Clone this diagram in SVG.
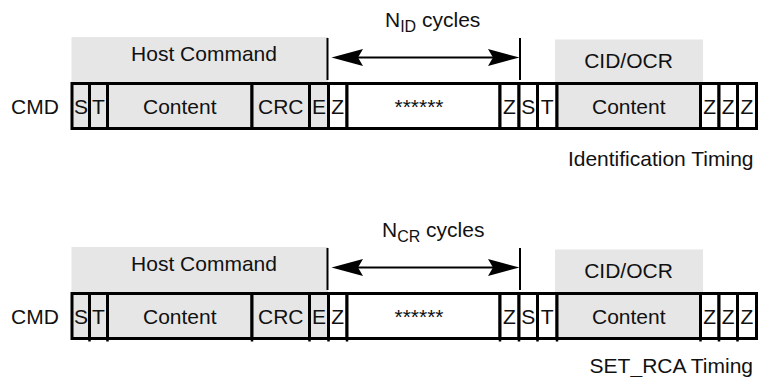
<svg xmlns="http://www.w3.org/2000/svg" width="758" height="377" viewBox="0 0 758 377">
<style>
text{font-family:"Liberation Sans",Arial,sans-serif;font-size:21px;fill:#111;}
.c{text-anchor:middle;}
.e{text-anchor:end;}
.hdr{fill:#e6e6e6;stroke:none;}
.cg{fill:#e6e6e6;stroke:#000;stroke-width:3;}
.cw{fill:#fff;stroke:#000;stroke-width:3;}
.mk{stroke:#000;stroke-width:2;fill:none;}
.ah{fill:#000;stroke:none;}
.sub{font-size:16px;}
</style>
<defs>
<g id="rowcells">
<rect class="cg" x="72" y="0" width="17.5" height="45"/>
<rect class="cg" x="89.5" y="0" width="18" height="45"/>
<rect class="cg" x="107.5" y="0" width="144.5" height="45"/>
<rect class="cg" x="252" y="0" width="57.5" height="45"/>
<rect class="cg" x="309.5" y="0" width="19" height="45"/>
<rect class="cw" x="328.5" y="0" width="18.5" height="45"/>
<rect class="cw" x="347" y="0" width="153" height="45"/>
<rect class="cw" x="500" y="0" width="19" height="45"/>
<rect class="cw" x="519" y="0" width="18.5" height="45"/>
<rect class="cw" x="537.5" y="0" width="19.5" height="45"/>
<rect class="cg" x="557" y="0" width="143.5" height="45"/>
<rect class="cw" x="700.5" y="0" width="18.5" height="45"/>
<rect class="cw" x="719" y="0" width="18.5" height="45"/>
<rect class="cw" x="737.5" y="0" width="19" height="45"/>
</g>
</defs>

<!-- Timing diagram 1 -->
<g id="hostcmd1"><rect class="hdr" x="71.5" y="37" width="256.5" height="46.5"/><text class="c" x="204" y="61">Host Command</text></g>
<g id="cidocr1"><rect class="hdr" x="555" y="39.5" width="148" height="44"/><text class="c" x="628.5" y="67.5">CID/OCR</text></g>
<g id="label-nid"><text x="385" y="27">N<tspan class="sub" dy="5">ID</tspan><tspan dy="-5"> cycles</tspan></text></g>
<g id="cmd1"><text x="11" y="114">CMD</text></g>
<g id="row1">
<use href="#rowcells" transform="translate(0,83.5)"/>
<text class="c" x="81" y="114.3">S</text>
<text class="c" x="98.5" y="114.3">T</text>
<text class="c" x="179.75" y="114.3">Content</text>
<text class="c" x="280.75" y="114.3">CRC</text>
<text class="c" x="319" y="114.3">E</text>
<text class="c" x="337.75" y="114.3">Z</text>
<text class="c" x="419" y="114.3">******</text>
<text class="c" x="509.5" y="114.3">Z</text>
<text class="c" x="528.25" y="114.3">S</text>
<text class="c" x="547.25" y="114.3">T</text>
<text class="c" x="628.75" y="114.3">Content</text>
<text class="c" x="709.75" y="114.3">Z</text>
<text class="c" x="728.25" y="114.3">Z</text>
<text class="c" x="747" y="114.3">Z</text>
</g>
<g id="caption1"><text class="e" x="753.5" y="166">Identification Timing</text></g>

<!-- Timing diagram 2 -->
<g id="hostcmd2"><rect class="hdr" x="71.5" y="247" width="256.5" height="46.5"/><text class="c" x="204" y="271">Host Command</text></g>
<g id="cidocr2"><rect class="hdr" x="555" y="249.5" width="148" height="44"/><text class="c" x="628.5" y="277.5">CID/OCR</text></g>
<g id="label-ncr"><text x="382" y="237">N<tspan class="sub" dy="5">CR</tspan><tspan dy="-5"> cycles</tspan></text></g>
<g id="cmd2"><text x="11" y="324">CMD</text></g>
<g id="row2">
<path class="mk" stroke-width="3" d="M89.5,338 v3.5 M107.5,338 v3.5 M252,338 v3.5 M309.5,338 v3.5 M328.5,338 v3.5 M347,338 v3.5 M500,338 v3.5 M519,338 v3.5 M537.5,338 v3.5 M557,338 v3.5 M700.5,338 v3.5 M719,338 v3.5 M737.5,338 v3.5" style="stroke-width:2.5"/>
<use href="#rowcells" transform="translate(0,293.5)"/>
<text class="c" x="81" y="324.3">S</text>
<text class="c" x="98.5" y="324.3">T</text>
<text class="c" x="179.75" y="324.3">Content</text>
<text class="c" x="280.75" y="324.3">CRC</text>
<text class="c" x="319" y="324.3">E</text>
<text class="c" x="337.75" y="324.3">Z</text>
<text class="c" x="419" y="324.3">******</text>
<text class="c" x="509.5" y="324.3">Z</text>
<text class="c" x="528.25" y="324.3">S</text>
<text class="c" x="547.25" y="324.3">T</text>
<text class="c" x="628.75" y="324.3">Content</text>
<text class="c" x="709.75" y="324.3">Z</text>
<text class="c" x="728.25" y="324.3">Z</text>
<text class="c" x="747" y="324.3">Z</text>
</g>
<g id="caption2"><text class="e" x="753" y="372.5">SET_RCA Timing</text></g>

<g id="connectors">
<line class="mk" x1="327.5" y1="38" x2="327.5" y2="80"/>
<line class="mk" x1="520" y1="38" x2="520" y2="80"/>
<line class="mk" x1="358" y1="57.5" x2="493" y2="57.5"/>
<polygon class="ah" points="331.5,57.5 363,49 358,57.5 363,66"/>
<polygon class="ah" points="519.5,57.5 488,49 493,57.5 488,66"/>
<line class="mk" x1="327.5" y1="248" x2="327.5" y2="290"/>
<line class="mk" x1="520" y1="248" x2="520" y2="290"/>
<line class="mk" x1="358" y1="267.5" x2="493" y2="267.5"/>
<polygon class="ah" points="331.5,267.5 363,259 358,267.5 363,276"/>
<polygon class="ah" points="519.5,267.5 488,259 493,267.5 488,276"/>
</g>
</svg>
